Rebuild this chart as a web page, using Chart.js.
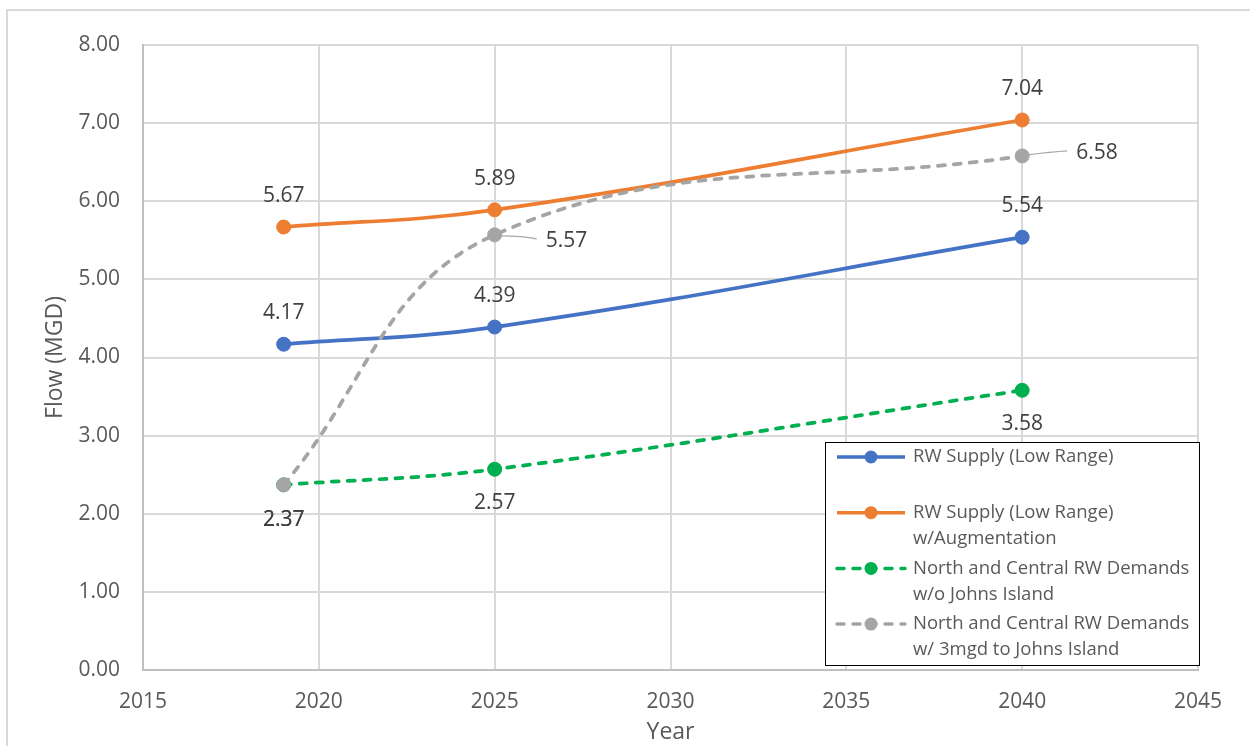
<!DOCTYPE html>
<html>
<head>
<meta charset="utf-8">
<title>Recycled Water Supply and Demand</title>
<script src="https://cdn.jsdelivr.net/npm/chart.js@4.4.1/dist/chart.umd.min.js"></script>
<style>
  html, body { margin: 0; padding: 0; background: #fff; overflow: hidden; }
  canvas { display: block; }
</style>
</head>
<body>
<canvas id="flowChart" width="1250" height="746"></canvas>
<script>
// Planning years and flows (MGD)
const years = [2019, 2025, 2040];
const supplyLowRange = [4.17, 4.39, 5.54];
const supplyWithAugmentation = [5.67, 5.89, 7.04];
const demandWithoutJohnsIsland = [2.37, 2.57, 3.58];
const demandWithJohnsIsland = [2.37, 5.57, 6.58];

// Legend text, one pair of lines per series
const seriesNames = [
  ['RW Supply (Low Range)', ''],
  ['RW Supply (Low Range)', 'w/Augmentation'],
  ['North and Central RW Demands', 'w/o Johns Island'],
  ['North and Central RW Demands', 'w/ 3mgd to Johns Island']
];

// Axis ranges and tick spacing
const yearTicks = { min: 2015, max: 2045, step: 5 };
const flowTicks = { min: 0, max: 8, step: 1 };

const FONT = '"Open Sans", "Noto Sans", sans-serif';

const toPoints = vals => vals.map((v, i) => ({ x: years[i], y: v }));

// White page with a light frame around the chart object
const chartFrame = {
  id: 'chartFrame',
  beforeDraw(chart) {
    const ctx = chart.ctx;
    ctx.save();
    ctx.fillStyle = '#ffffff';
    ctx.fillRect(0, 0, chart.width, chart.height);
    ctx.strokeStyle = '#D9D9D9';
    ctx.lineWidth = 2;
    ctx.strokeRect(7, 10, chart.width + 40, chart.height + 40);
    ctx.restore();
  }
};

// Value labels next to each marker
const valueLabels = {
  id: 'valueLabels',
  afterDatasetsDraw(chart) {
    const ctx = chart.ctx;
    ctx.save();
    ctx.font = '21px ' + FONT;
    ctx.fillStyle = '#404040';
    ctx.textBaseline = 'middle';
    chart.data.datasets.forEach((ds, di) => {
      const meta = chart.getDatasetMeta(di);
      meta.data.forEach((pt, i) => {
        const place = ds.labelPlacement[i];
        const text = ds.data[i].y.toFixed(2);
        if (place.leader) {
          ctx.save();
          ctx.strokeStyle = '#A6A6A6';
          ctx.lineWidth = 1.2;
          ctx.setLineDash([]);
          ctx.beginPath();
          ctx.moveTo(pt.x + 5, pt.y + place.leader[0]);
          ctx.quadraticCurveTo(pt.x + place.dx * 0.55, pt.y + place.leader[1],
                               pt.x + place.dx - 9, pt.y + place.leader[2]);
          ctx.stroke();
          ctx.restore();
          ctx.textAlign = 'left';
        } else {
          ctx.textAlign = 'center';
        }
        ctx.fillText(text, pt.x + (place.dx || 0), pt.y + place.dy);
      });
    });
    ctx.restore();
  }
};

// Boxed legend inside the plot area
const boxLegend = {
  id: 'boxLegend',
  afterDraw(chart, args, opts) {
    const ctx = chart.ctx;
    const b = opts.box;
    ctx.save();
    ctx.fillStyle = '#ffffff';
    ctx.fillRect(b.left, b.top, b.width, b.height);
    ctx.strokeStyle = '#000000';
    ctx.lineWidth = 1;
    ctx.strokeRect(b.left + 0.5, b.top + 0.5, b.width, b.height);
    ctx.font = opts.fontSize + 'px ' + FONT;
    ctx.textBaseline = 'middle';
    ctx.textAlign = 'left';
    chart.data.datasets.forEach((ds, i) => {
      const y = b.top + opts.firstRow + i * opts.rowGap;
      ctx.strokeStyle = ds.borderColor;
      ctx.lineWidth = 3.5;
      ctx.lineCap = ds.borderCapStyle;
      ctx.setLineDash(ds.borderDash || []);
      ctx.beginPath();
      ctx.moveTo(b.left + opts.sampleStart, y);
      ctx.lineTo(b.left + opts.sampleEnd, y);
      ctx.stroke();
      ctx.setLineDash([]);
      ctx.fillStyle = ds.pointBackgroundColor;
      ctx.beginPath();
      ctx.arc(b.left + (opts.sampleStart + opts.sampleEnd) / 2, y, 6.5, 0, Math.PI * 2);
      ctx.fill();
      ctx.fillStyle = '#595959';
      seriesNames[i].forEach((line, li) => {
        if (line) ctx.fillText(line, b.left + opts.textStart, y + li * opts.lineGap);
      });
    });
    ctx.restore();
  }
};

const lineStyle = (color, dash) => ({
  borderColor: color,
  backgroundColor: color,
  pointBackgroundColor: color,
  pointBorderColor: color,
  borderWidth: 3.75,
  borderDash: dash,
  borderCapStyle: dash.length ? 'round' : 'butt',
  pointRadius: 7,
  pointBorderWidth: 1,
  tension: 0.4,
  fill: false
});

new Chart(document.getElementById('flowChart'), {
  type: 'line',
  data: {
    datasets: [
      Object.assign({
        label: seriesNames[0].join(' '),
        data: toPoints(supplyLowRange),
        order: 4,
        labelPlacement: [{ dy: -31 }, { dy: -31 }, { dy: -31 }]
      }, lineStyle('#4472C4', [])),
      Object.assign({
        label: seriesNames[1].join(' '),
        data: toPoints(supplyWithAugmentation),
        order: 3,
        labelPlacement: [{ dy: -31 }, { dy: -31 }, { dy: -31 }]
      }, lineStyle('#ED7D31', [])),
      Object.assign({
        label: seriesNames[2].join(' '),
        data: toPoints(demandWithoutJohnsIsland),
        order: 2,
        labelPlacement: [{ dy: 35 }, { dy: 34 }, { dy: 34 }]
      }, lineStyle('#00B050', [7, 9])),
      Object.assign({
        label: seriesNames[3].join(' '),
        data: toPoints(demandWithJohnsIsland),
        order: 1,
        labelPlacement: [
          { dy: 35 },
          { dx: 51, dy: 6, leader: [1, 1, 4] },
          { dx: 54, dy: -3, leader: [-1, -4, -5] }
        ]
      }, lineStyle('#A5A5A5', [7, 9]))
    ]
  },
  options: {
    responsive: false,
    animation: false,
    events: [],
    layout: { padding: { left: 0, top: 45, right: 52, bottom: 0 } },
    plugins: {
      legend: { display: false },
      tooltip: { enabled: false },
      boxLegend: {
        box: { left: 825, top: 442, width: 374, height: 223 },
        firstRow: 15, rowGap: 55.7, lineGap: 26,
        sampleStart: 12, sampleEnd: 80, textStart: 88, fontSize: 18.5
      }
    },
    scales: {
      x: {
        type: 'linear',
        min: yearTicks.min,
        max: yearTicks.max,
        afterFit: s => { s.height = 76; },
        ticks: {
          stepSize: yearTicks.step,
          padding: 19,
          color: '#595959',
          font: { family: FONT, size: 21 },
          callback: v => String(v)
        },
        grid: { color: '#D9D9D9', lineWidth: 2, drawTicks: false },
        border: { color: '#BFBFBF', width: 2 },
        title: {
          display: true,
          text: 'Year',
          color: '#595959',
          font: { family: FONT, size: 23 },
          padding: { top: 0, bottom: 0 }
        }
      },
      y: {
        min: flowTicks.min,
        max: flowTicks.max,
        afterFit: s => { s.width = 143; },
        ticks: {
          stepSize: flowTicks.step,
          padding: 23,
          color: '#595959',
          font: { family: FONT, size: 21 },
          callback: v => v.toFixed(2)
        },
        grid: { color: '#D9D9D9', lineWidth: 2, drawTicks: false },
        border: { color: '#BFBFBF', width: 2 },
        title: {
          display: true,
          text: 'Flow (MGD)',
          color: '#595959',
          font: { family: FONT, size: 23 },
          padding: { top: 42, bottom: 0 }
        }
      }
    }
  },
  plugins: [chartFrame, valueLabels, boxLegend]
});
</script>
</body>
</html>
